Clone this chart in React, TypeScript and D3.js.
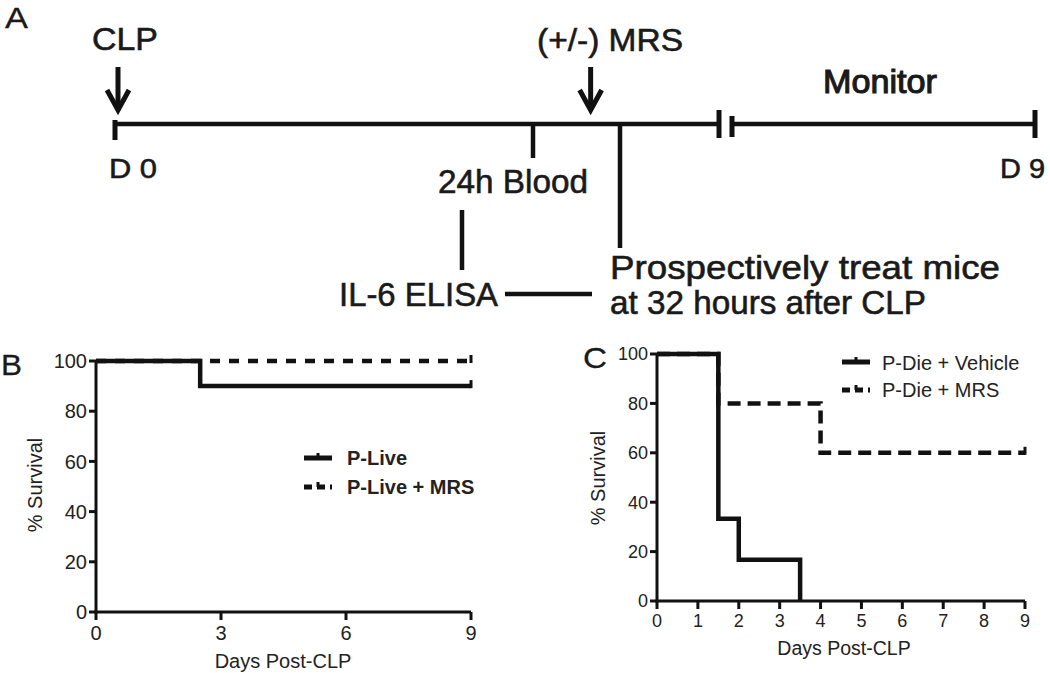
import React from "react";
import * as d3 from "d3";

// ---------- Data ----------
// Panel B: P-Live groups (Kaplan-Meier steps)
const bLiveDays = [0, 2.5, 9];
const bLiveSurv = [100, 90, 90];
const bLiveMrsDays = [0, 9];
const bLiveMrsSurv = [100, 100];
const bXTicks = [0, 3, 6, 9];

// Panel C: P-Die groups
const cVehDays = [0, 1.5, 2, 3.5];
const cVehSurv = [100, 33.3, 16.7, 0];
const cMrsDays = [0, 1.5, 4, 9];
const cMrsSurv = [100, 80, 60, 60];
const cXTicks = [0, 1, 2, 3, 4, 5, 6, 7, 8, 9];

const yTicks = [0, 20, 40, 60, 80, 100];

// Panel A timeline (hours after CLP, schematic)
const tlKnots = [0, 24, 32, 40];
const tlEvents = { clp: 0, blood: 24, mrsArrow: 29.3, treat: 32 };

const FONT = "'Liberation Sans', Arial, Helvetica, sans-serif";

type Pt = { t: number; s: number };
const zip = (ts: number[], ss: number[]): Pt[] => ts.map((t, i) => ({ t, s: ss[i] }));

function Axes({ x, y, xTicks, yLabelX, xLabelY, fs }: any) {
  const [x0, x1] = x.range();
  const [y0, y1] = y.range();
  return (
    <g>
      <line x1={x0} x2={x0} y1={y1} y2={y0 + 1.5} stroke="#111" strokeWidth={3} />
      <line x1={x0 - 1.5} x2={x1} y1={y0} y2={y0} stroke="#111" strokeWidth={3} />
      {yTicks.map((v) => (
        <g key={"y" + v}>
          <line x1={x0 - 7} x2={x0} y1={y(v)} y2={y(v)} stroke="#111" strokeWidth={3} />
          <text x={yLabelX} y={y(v)} dy="0.36em" textAnchor="end" fontSize={fs} fontFamily={FONT} fill="#222">
            {v}
          </text>
        </g>
      ))}
      {xTicks.map((v: number) => (
        <g key={"x" + v}>
          <line x1={x(v)} x2={x(v)} y1={y0} y2={y0 + 8} stroke="#111" strokeWidth={3} />
          <text x={x(v)} y={xLabelY} textAnchor="middle" fontSize={fs} fontFamily={FONT} fill="#222">
            {v}
          </text>
        </g>
      ))}
    </g>
  );
}

function Curve({ data, x, y, dash, sw }: any) {
  const line = d3
    .line<Pt>()
    .x((d) => x(d.t))
    .y((d) => y(d.s))
    .curve(d3.curveStepAfter);
  const last = data[data.length - 1];
  return (
    <g>
      <path d={line(data) || ""} fill="none" stroke="#111" strokeWidth={sw} strokeDasharray={dash} />
      {last.s > 0 && (
        <line x1={x(last.t)} x2={x(last.t)} y1={y(last.s) - 6} y2={y(last.s) + 2} stroke="#111" strokeWidth={3} />
      )}
    </g>
  );
}

function LegendItem({ x1, x2, y, dash, label, tx, ty, fs, bold }: any) {
  return (
    <g>
      <line x1={x1} x2={x2} y1={y} y2={y} stroke="#111" strokeWidth={5} strokeDasharray={dash} />
      <line x1={(x1 + x2) / 2} x2={(x1 + x2) / 2} y1={y - 5} y2={y} stroke="#111" strokeWidth={3} />
      <text x={tx} y={ty} fontSize={fs} fontWeight={bold ? "bold" : "normal"} fontFamily={FONT} fill="#222">
        {label}
      </text>
    </g>
  );
}

function Arrow({ x, y0, y1 }: any) {
  return (
    <g>
      <line x1={x} x2={x} y1={y0} y2={y1 - 4} stroke="#111" strokeWidth={5} />
      <path d={`M${x - 11},${y1 - 20} L${x},${y1} L${x + 11},${y1 - 20}`} fill="none" stroke="#111" strokeWidth={5} strokeLinejoin="miter" />
    </g>
  );
}

function T({ x, y, len, fs, children, sw }: any) {
  return (
    <text
      x={x}
      y={y}
      fontSize={fs}
      fontFamily={FONT}
      textLength={len}
      lengthAdjust="spacingAndGlyphs"
      fill="#1a1a1a"
      stroke="#1a1a1a"
      strokeWidth={sw ?? 0.6}
    >
      {children}
    </text>
  );
}

export default function App() {
  // Panel A scales
  const tl = d3.scaleLinear().domain(tlKnots).range([115, 533, 620, 719]);
  const tlY = 124;
  const monitor = d3.scaleLinear().domain([0, 1]).range([732, 1035]);

  // Panel B
  const xB = d3.scaleLinear().domain([0, 9]).range([96, 471]);
  const yB = d3.scaleLinear().domain([0, 100]).range([612, 361]);
  // Panel C
  const xC = d3.scaleLinear().domain([0, 9]).range([657, 1025]);
  const yC = d3.scaleLinear().domain([0, 100]).range([601, 354]);

  return (
    <svg width={1050} height={673} style={{ position: "absolute", left: 0, top: 0, background: "#fff" }}>
      <rect width={1050} height={673} fill="#fff" />
      {/* ---------- Panel A ---------- */}
      <T x={5} y={28} fs={29} len={23} sw={0.3}>A</T>
      <T x={92} y={50} fs={32} len={66}>CLP</T>
      <T x={537} y={51} fs={32} len={146}>(+/-) MRS</T>
      <T x={823} y={93} fs={33} len={114} sw={1.1}>Monitor</T>
      <Arrow x={tl(tlEvents.clp) + 3} y0={67} y1={110} />
      <Arrow x={tl(tlEvents.mrsArrow)} y0={67} y1={110} />
      {/* timeline */}
      <line x1={tl(0)} x2={tl(40)} y1={tlY} y2={tlY} stroke="#111" strokeWidth={4.5} />
      <line x1={tl(0)} x2={tl(0)} y1={120} y2={140} stroke="#111" strokeWidth={5} />
      <line x1={tl(40)} x2={tl(40)} y1={110} y2={138} stroke="#111" strokeWidth={5} />
      <line x1={monitor(0)} x2={monitor(1)} y1={tlY} y2={tlY} stroke="#111" strokeWidth={4.5} />
      <line x1={monitor(0)} x2={monitor(0)} y1={116} y2={137} stroke="#111" strokeWidth={5} />
      <line x1={monitor(1)} x2={monitor(1)} y1={110} y2={138} stroke="#111" strokeWidth={5} />
      <line x1={tl(tlEvents.blood)} x2={tl(tlEvents.blood)} y1={tlY} y2={158} stroke="#111" strokeWidth={4.5} />
      <line x1={tl(tlEvents.treat)} x2={tl(tlEvents.treat)} y1={tlY} y2={248} stroke="#111" strokeWidth={4.5} />
      <T x={109} y={178} fs={28} len={48}>D 0</T>
      <T x={1000} y={178} fs={28} len={45}>D 9</T>
      <T x={438} y={193} fs={34} len={150}>24h Blood</T>
      <line x1={462} x2={462} y1={210} y2={270} stroke="#111" strokeWidth={4.5} />
      <T x={339} y={306} fs={34} len={159}>IL-6 ELISA</T>
      <line x1={505} x2={592} y1={294} y2={294} stroke="#111" strokeWidth={4.5} />
      <T x={610} y={279} fs={33} len={390}>Prospectively treat mice</T>
      <T x={610} y={314} fs={33} len={316}>at 32 hours after CLP</T>

      {/* ---------- Panel B ---------- */}
      <T x={1} y={375} fs={30} len={21} sw={0.3}>B</T>
      <Axes x={xB} y={yB} xTicks={bXTicks} yLabelX={87} xLabelY={640} fs={20} />
      <Curve data={zip(bLiveMrsDays, bLiveMrsSurv)} x={xB} y={yB} dash="10,9" sw={4.5} />
      <Curve data={zip(bLiveDays, bLiveSurv)} x={xB} y={yB} sw={4.5} />
      <LegendItem x1={304} x2={332} y={458} label="P-Live" tx={347} ty={465} fs={20} bold />
      <LegendItem x1={304} x2={332} y={487} dash="8,5" label="P-Live + MRS" tx={347} ty={494} fs={20} bold />
      <text x={283} y={668} textAnchor="middle" fontSize={20} fontFamily={FONT} fill="#222">
        Days Post-CLP
      </text>
      <text transform="translate(42,485) rotate(-90)" textAnchor="middle" fontSize={20} fontFamily={FONT} fill="#222">
        % Survival
      </text>

      {/* ---------- Panel C ---------- */}
      <T x={583} y={368} fs={30} len={24} sw={0.3}>C</T>
      <Axes x={xC} y={yC} xTicks={cXTicks} yLabelX={648} xLabelY={627} fs={18} />
      <Curve data={zip(cMrsDays, cMrsSurv)} x={xC} y={yC} dash="13,7" sw={4.5} />
      <Curve data={zip(cVehDays, cVehSurv)} x={xC} y={yC} sw={4.5} />
      <LegendItem x1={842} x2={870} y={362} label="P-Die + Vehicle" tx={882} ty={370} fs={20} />
      <LegendItem x1={842} x2={870} y={390} dash="8,5" label="P-Die + MRS" tx={882} ty={397} fs={20} />
      <text x={844} y={655} textAnchor="middle" fontSize={19.5} fontFamily={FONT} fill="#222">
        Days Post-CLP
      </text>
      <text transform="translate(605,478) rotate(-90)" textAnchor="middle" fontSize={20} fontFamily={FONT} fill="#222">
        % Survival
      </text>
    </svg>
  );
}
